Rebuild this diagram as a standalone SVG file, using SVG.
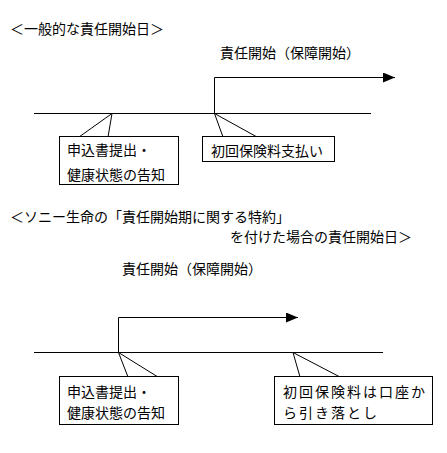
<svg xmlns="http://www.w3.org/2000/svg" width="447" height="453" viewBox="0 0 447 453">
<style>
text{font-family:"Noto Sans CJK JP","Noto Sans CJK SC",sans-serif;font-size:14px;fill:#000}
.ln{stroke:#000;stroke-width:1;fill:none}
.box{stroke:#000;stroke-width:1;fill:#fff}
.sp{letter-spacing:2px}
</style>
<defs>
<marker id="ah" viewBox="0 0 12 10" refX="12" refY="5" markerWidth="12" markerHeight="10" markerUnits="userSpaceOnUse" orient="auto">
<path d="M0,0 L12,5 L0,10 Z" fill="#000"/>
</marker>
</defs>
<rect width="447" height="453" fill="#fff"/>
<g id="title1"><text x="10" y="34">＜一般的な責任開始日＞</text></g>
<g id="start1"><text x="220" y="57.5">責任開始（保障開始）</text></g>
<g id="title2"><text x="10" y="222">＜ソニー生命の「責任開始期に関する特約」</text><text x="230" y="242">を付けた場合の責任開始日＞</text></g>
<g id="start2"><text x="122" y="274">責任開始（保障開始）</text></g>
<g id="connectors">
<line class="ln" x1="34" y1="113.5" x2="371" y2="113.5"/>
<polyline class="ln" points="214.5,113.5 214.5,77.5 395,77.5" marker-end="url(#ah)"/>
<line class="ln" x1="34" y1="352.5" x2="383" y2="352.5"/>
<polyline class="ln" points="118.5,352.5 118.5,317.5 298,317.5" marker-end="url(#ah)"/>
</g>
<g id="callout1">
<polyline class="ln" points="79,137 112,113.5 108,137"/>
<rect class="box" x="59.5" y="136.5" width="119" height="48"/>
<text x="67" y="155">申込書提出・</text>
<text x="67" y="180">健康状態の告知</text>
</g>
<g id="callout2">
<polyline class="ln" points="223,137 214.5,113.5 257,137"/>
<rect class="box" x="202.5" y="136.5" width="132" height="25"/>
<text x="211" y="155.5">初回保険料支払い</text>
</g>
<g id="callout3">
<polyline class="ln" points="128,377 118.5,352.5 158,377"/>
<rect class="box" x="59.5" y="376.5" width="119" height="48"/>
<text x="67" y="396.5">申込書提出・</text>
<text x="67" y="417.5">健康状態の告知</text>
</g>
<g id="callout4">
<polyline class="ln" points="300,377 293,352.5 340,377"/>
<rect class="box" x="274.5" y="376.5" width="158" height="48"/>
<text class="sp" x="283" y="396.5">初回保険料は口座か</text>
<text class="sp" x="283" y="417.5">ら引き落とし</text>
</g>
</svg>
